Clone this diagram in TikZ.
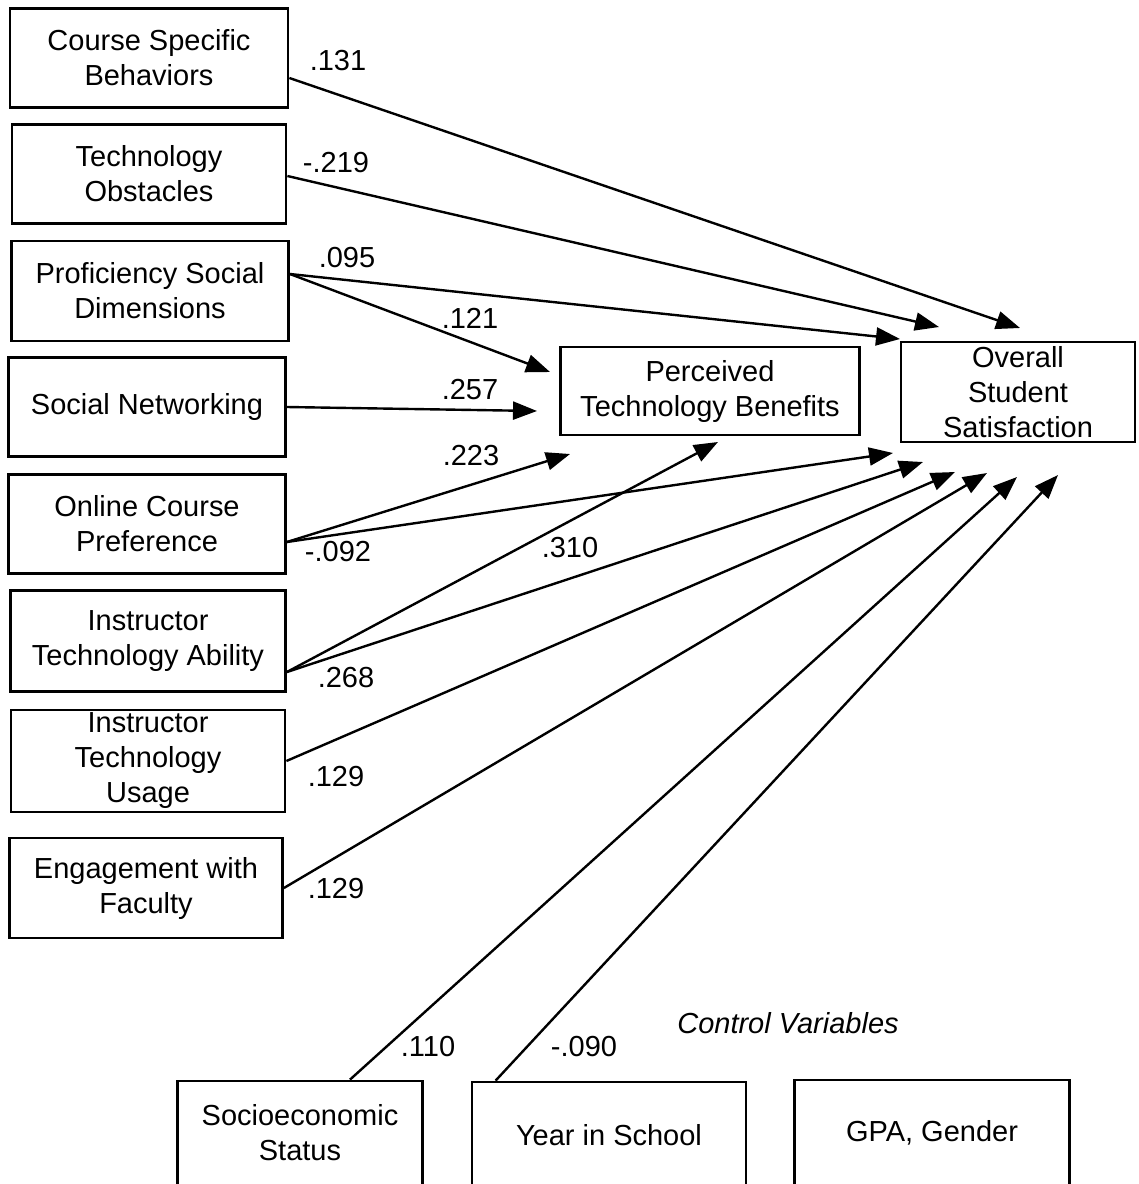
\documentclass[tikz,border=0pt]{standalone}
\usepackage{fontspec}
\setmainfont{Liberation Sans}
\usetikzlibrary{arrows.meta}
\tikzset{
  var/.style={draw, line width=1.4pt, inner sep=0pt, align=center,
    font=\fontsize{14.5pt}{17.5pt}\selectfont},
  coef/.style={inner sep=0pt, font=\fontsize{14.5pt}{17pt}\selectfont},
  path/.style={line width=1.2pt, -{Triangle[length=12pt,width=9pt]}},
}
\begin{document}
\begin{tikzpicture}[x=0.5pt,y=-0.5pt]
  \useasboundingbox (0,0) rectangle (1139,1184);
  \clip (0,0) rectangle (1139,1184);
  % predictors
  \node[var, minimum width=139pt, minimum height=49.5pt] (csb) at (149,58) {Course Specific\\Behaviors};
  \node[var, minimum width=137pt, minimum height=49.5pt] (tob) at (149,174) {Technology\\Obstacles};
  \node[var, minimum width=138.5pt, minimum height=50pt] (psd) at (150,291) {Proficiency Social\\Dimensions};
  \node[var, minimum width=138.5pt, minimum height=49.5pt] (sn) at (147,407) {Social Networking};
  \node[var, minimum width=138.5pt, minimum height=49.5pt] (ocp) at (147,524) {Online Course\\Preference};
  \node[var, minimum width=137.5pt, minimum height=50.5pt] (ita) at (148,641) {Instructor\\Technology Ability};
  \node[var, minimum width=137pt, minimum height=51pt] (itu) at (148,761) {Instructor\\Technology\\Usage};
  \node[var, minimum width=136.5pt, minimum height=50pt] (ewf) at (146,888) {Engagement with\\Faculty};
  % mediator and outcome
  \node[var, minimum width=149.5pt, minimum height=44pt] (ptb) at (710,391) {Perceived\\Technology Benefits};
  \node[var, minimum width=117pt, minimum height=50pt] (oss) at (1018,392) {Overall\\Student\\Satisfaction};
  % control variables
  \node[var, minimum width=122.5pt, minimum height=52pt] (ses) at (300,1133) {Socioeconomic\\Status};
  \node[var, minimum width=137pt, minimum height=53pt] (yis) at (609,1135) {Year in School};
  \node[var, minimum width=137.5pt, minimum height=53pt] (gpa) at (932,1133) {GPA, Gender};
  \node[coef, font=\fontsize{14.5pt}{17pt}\selectfont\itshape] (ctrl) at (788,1023) {Control Variables};
  % arrow ends
  \coordinate (o1) at (1020,328);
  \coordinate (o2) at (939,327);
  \coordinate (o3) at (900,339);
  \coordinate (o4) at (893,453);
  \coordinate (o5) at (923,462);
  \coordinate (o6) at (955,472);
  \coordinate (o7) at (987,473);
  \coordinate (o8) at (1017,477);
  \coordinate (o9) at (1058,475);
  \coordinate (p1) at (550,372);
  \coordinate (p2) at (537,411);
  \coordinate (p3) at (570,454);
  \coordinate (p4) at (718,442);
  % paths
  \draw[path] ([yshift=-10pt]csb.east) -- (o1);
  \draw[path] ([yshift=-1pt]tob.east) -- (o2);
  \draw[path] ([yshift=8.5pt]psd.east) -- (o3);
  \draw[path] ([yshift=8.5pt]psd.east) -- (p1);
  \draw[path] (sn.east) -- (p2);
  \draw[path] ([yshift=-9pt]ocp.east) -- (p3);
  \draw[path] ([yshift=-9pt]ocp.east) -- (o4);
  \draw[path] ([yshift=-15.5pt]ita.east) -- (p4);
  \draw[path] ([yshift=-15.5pt]ita.east) -- (o5);
  \draw[path] (itu.east) -- (o6);
  \draw[path] (ewf.east) -- (o7);
  \draw[path] ([xshift=25pt]ses.north) -- (o8);
  \draw[path] ([xshift=12.5pt]yis.north west) -- (o9);
  % coefficients
  \node[coef] (c1) at (338,61) {.131};
  \node[coef] (c2) at (336,163) {-.219};
  \node[coef] (c3) at (347,258) {.095};
  \node[coef] (c4) at (470,318) {.121};
  \node[coef] (c5) at (470,390) {.257};
  \node[coef] (c6) at (471,456) {.223};
  \node[coef] (c7) at (338,552) {-.092};
  \node[coef] (c8) at (570,548) {.310};
  \node[coef] (c9) at (346,678) {.268};
  \node[coef] (c10) at (336,777) {.129};
  \node[coef] (c11) at (336,889) {.129};
  \node[coef] (c12) at (428,1047) {.110};
  \node[coef] (c13) at (584,1047) {-.090};
\end{tikzpicture}
\end{document}
